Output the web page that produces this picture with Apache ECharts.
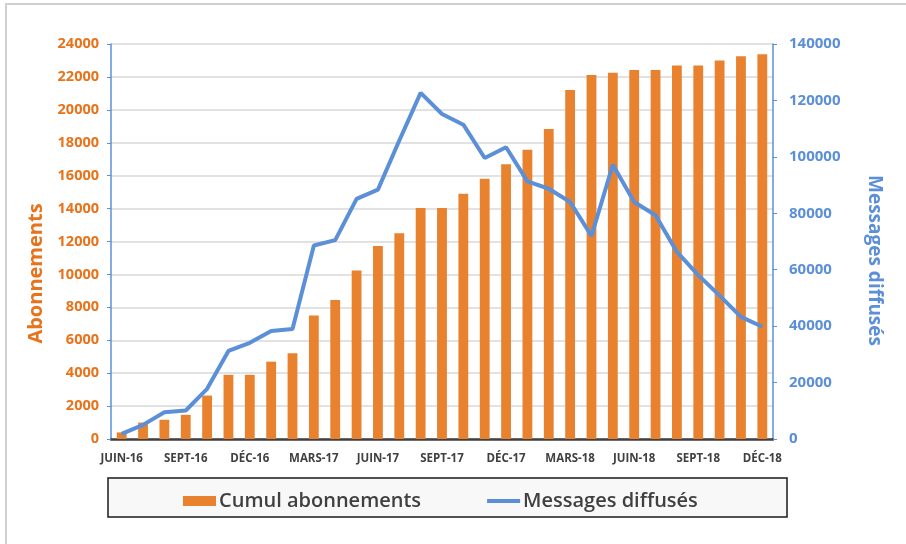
<!DOCTYPE html>
<html>
<head>
<meta charset="utf-8">
<script src="https://cdn.jsdelivr.net/npm/echarts@6/dist/echarts.min.js"></script>
<style>
  html, body { margin: 0; padding: 0; background: #fff; }
  #main { width: 906px; height: 544px; }
</style>
</head>
<body>
<div id="main"></div>
<script>
// mois (juin 2016 -> décembre 2018)
const months = [
  'JUIN-16', 'JUIL-16', 'AOÛT-16', 'SEPT-16', 'OCT-16', 'NOV-16', 'DÉC-16',
  'JANV-17', 'FÉVR-17', 'MARS-17', 'AVR-17', 'MAI-17', 'JUIN-17', 'JUIL-17', 'AOÛT-17', 'SEPT-17', 'OCT-17', 'NOV-17', 'DÉC-17',
  'JANV-18', 'FÉVR-18', 'MARS-18', 'AVR-18', 'MAI-18', 'JUIN-18', 'JUIL-18', 'AOÛT-18', 'SEPT-18', 'OCT-18', 'NOV-18', 'DÉC-18'
]
// cumul abonnements (axe gauche)
const abonnements = [
  400, 1000, 1170, 1470, 2640, 3900, 3900, 4700, 5210, 7510, 8440, 10240, 11720, 12500, 14040, 14040,
  14900, 15820, 16700, 17580, 18830, 21210, 22120, 22260, 22420, 22420, 22700, 22700, 22990, 23250, 23370
]
// messages diffusés (axe droit)
const messages = [
  1800, 5000, 9500, 10100, 17800, 31200, 34100, 38300, 39000, 68600, 70500, 85100, 88400, 105800, 122700, 115200,
  111400, 99600, 103400, 91300, 88700, 84000, 72000, 97200, 84000, 79300, 66300, 58100, 50800, 43300, 39800
]

const orange = '#E8822F'
const orangeText = '#E8731A'
const blue = '#5B8FD8'
const font = 'Open Sans'

const chart = echarts.init(document.getElementById('main'))

const option = {
  animation: false,
  textStyle: { fontFamily: font },
  grid: { left: 111, right: 133, top: 44, bottom: 105 },
  legend: {
    left: 178,
    top: 486,
    itemWidth: 33,
    itemHeight: 10,
    itemGap: 66,
    textStyle: { fontSize: 20, fontWeight: 600, color: '#404040', fontFamily: font, padding: [0, 0, 0, -2] },
    data: [
      { name: 'Cumul abonnements', icon: 'rect' },
      { name: 'Messages diffusés', icon: 'path://M0,3 L32,3 L32,7 L0,7 Z' }
    ]
  },
  xAxis: {
    type: 'category',
    data: months,
    axisLine: { lineStyle: { color: '#404040', width: 2.5 } },
    axisTick: { show: false },
    axisLabel: { interval: 2, color: '#404040', fontSize: 11.5, fontWeight: 'bold', margin: 14 }
  },
  yAxis: [
    {
      type: 'value',
      min: 0,
      max: 24000,
      interval: 2000,
      name: 'Abonnements',
      nameLocation: 'middle',
      nameGap: 63,
      // décalé vers le bas comme dans Excel
      nameTextStyle: { color: orangeText, fontSize: 20, fontWeight: 'bold', fontFamily: font, padding: [0, 64, 0, 0] },
      axisLine: { show: true, lineStyle: { color: blue, width: 1.5 } },
      axisTick: { show: true, length: 4, lineStyle: { color: blue } },
      axisLabel: { color: orangeText, fontSize: 14.5, fontWeight: 'bold', margin: 12, formatter: v => String(v) },
      splitLine: { lineStyle: { color: '#d9d9d9', width: 1.5 } }
    },
    {
      type: 'value',
      min: 0,
      max: 140000,
      interval: 20000,
      name: 'Messages diffusés',
      nameLocation: 'middle',
      nameGap: 92,
      nameRotate: -90,
      nameTextStyle: { color: blue, fontSize: 19, fontWeight: 'bold', fontFamily: font, padding: [0, 0, 0, 38] },
      axisLine: { show: true, lineStyle: { color: blue, width: 1.5 } },
      axisTick: { show: true, length: 4, lineStyle: { color: blue } },
      axisLabel: { color: blue, fontSize: 15, fontWeight: 'bold', margin: 16, formatter: v => String(v) },
      splitLine: { show: false }
    }
  ],
  series: [
    {
      name: 'Cumul abonnements',
      type: 'bar',
      yAxisIndex: 0,
      barWidth: '46%',
      itemStyle: { color: orange },
      data: abonnements
    },
    {
      name: 'Messages diffusés',
      type: 'line',
      yAxisIndex: 1,
      showSymbol: false,
      symbol: 'none',
      lineStyle: { color: blue, width: 4 },
      itemStyle: { color: blue },
      data: messages
    }
  ],
  graphic: [
    // cadre du graphique (haut et gauche)
    { type: 'polyline', shape: { points: [[6, 544], [6, 4], [906, 4]] }, style: { stroke: '#d0d0d0', lineWidth: 2, fill: null }, silent: true },
    // boîte de la légende
    { type: 'rect', z: -1, shape: { x: 108, y: 478, width: 679, height: 39 }, style: { fill: '#f8f8f8', stroke: '#1a1a1a', lineWidth: 1.5 }, silent: true }
  ]
}

chart.setOption(option)
</script>
</body>
</html>
